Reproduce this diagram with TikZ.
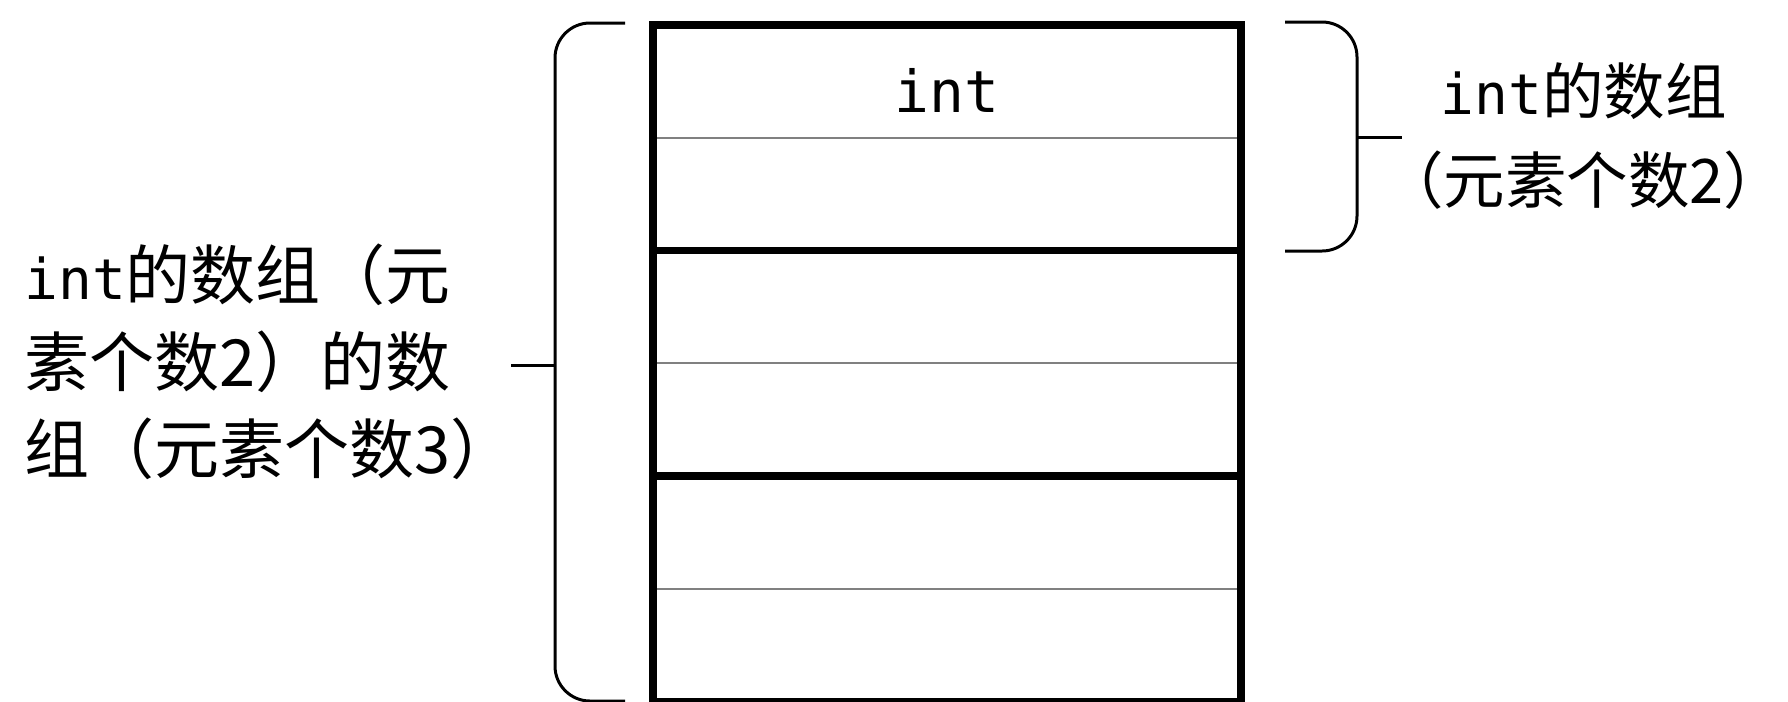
\documentclass[tikz,border=0pt]{standalone}
\usepackage{fontspec}
\setmainfont{Noto Sans CJK SC}
\setmonofont{DejaVu Sans Mono}
\usetikzlibrary{positioning}

\begin{document}
\begin{tikzpicture}[
      x=0.02cm, y=-0.02cm,
      cell/.style={draw=black!50, line width=1.2pt, minimum width=11.76cm,
                   minimum height=2.256cm, inner sep=0pt, outer sep=0pt,
                   text height=1.24cm, text depth=0pt,
                   font=\ttfamily\fontsize{33}{33}\selectfont},
      rand/.style={line width=4.3pt},
      klammer/.style={line width=1.7pt, rounded corners=0.7cm},
      strich/.style={line width=1.7pt},
      desc/.style={inner sep=0pt, font=\fontsize{37}{49.5}\selectfont},
      code/.style={}
  ]
      \useasboundingbox (0,0) rectangle (1788,701);

      % Zellen des Arrays
      \node[cell] (z1) at (947,81.4) {int};
      \node[cell, below=0pt of z1] (z2) {};
      \node[cell, below=0pt of z2] (z3) {};
      \node[cell, below=0pt of z3] (z4) {};
      \node[cell, below=0pt of z4] (z5) {};
      \node[cell, below=0pt of z5] (z6) {};

      % Rahmen und Gruppengrenzen
      \draw[rand] (z1.north west) rectangle (z6.south east);
      \draw[rand] (z2.south west) -- (z2.south east);
      \draw[rand] (z4.south west) -- (z4.south east);

      % Klammer links
      \coordinate (lo) at (625,23);
      \coordinate (lu) at (625,701);
      \coordinate (lm) at (555,365);
      \draw[klammer] (lo) -- (555,23) -- (555,701) -- (lu);
      \node[desc, align=left, anchor=west] (aussen) at (24,362)
           {{\ttfamily\fontsize{32}{32}\selectfont int}的数组（元\\素个数2）的数\\组（元素个数3）};
      \draw[strich] (lm) -- ++(-44,0);

      % Klammer rechts
      \coordinate (ro) at (1285,22);
      \coordinate (ru) at (1285,251);
      \coordinate (rm) at (1357,137);
      \draw[klammer] (ro) -- (1357,22) -- (1357,251) -- (ru);
      \node[desc, align=left, anchor=west, font=\fontsize{35}{51}\selectfont] (innen) at (1382,136)
           {\hspace*{33.3pt}{\ttfamily\fontsize{32}{32}\selectfont int}的数组\\（元素个数2）};
      \draw[strich] (rm) -- ++(45,0);
  \end{tikzpicture}
\end{document}
